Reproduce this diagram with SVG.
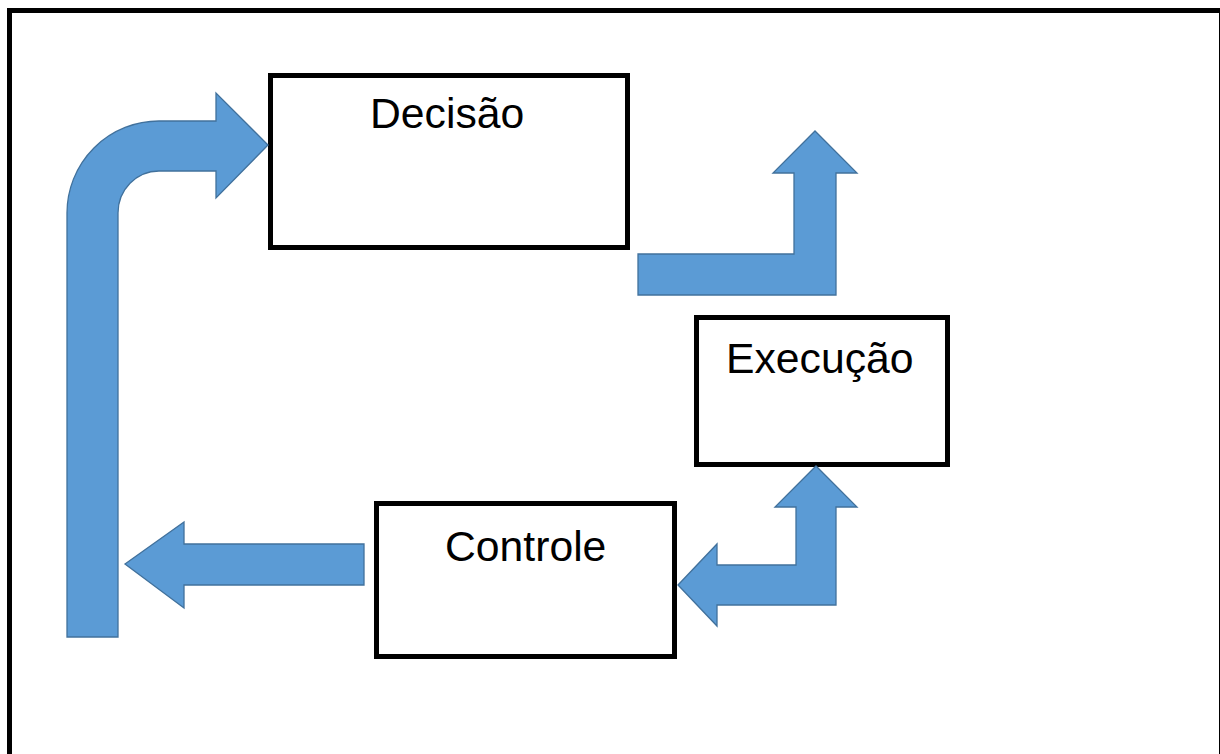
<svg xmlns="http://www.w3.org/2000/svg" width="1220" height="754" viewBox="0 0 1220 754">
  <style>
    .frame { fill: #ffffff; stroke: #000000; stroke-width: 5; }
    .box { fill: #ffffff; stroke: #000000; stroke-width: 5; }
    .label { font-family: "Liberation Sans", Arial, sans-serif; font-size: 42.7px; fill: #000000; }
    .arrow { fill: #5B9BD5; stroke: #41719C; stroke-width: 1.3; stroke-linejoin: miter; }
  </style>

  <!-- outer frame -->
  <rect class="frame" x="9.5" y="10.5" width="1212" height="760"/>

  <!-- nodes -->
  <g id="decisao">
    <rect class="box" x="270.5" y="75.5" width="357" height="172"/>
    <text class="label" x="370" y="128">Decisão</text>
  </g>
  <g id="execucao">
    <rect class="box" x="696.5" y="317.5" width="251" height="147"/>
    <text class="label" x="726" y="373">Execução</text>
  </g>
  <g id="controle">
    <rect class="box" x="376.5" y="503.5" width="298" height="153"/>
    <text class="label" x="445" y="561">Controle</text>
  </g>

  <!-- block-arrow connectors -->
  <g id="connectors">
    <!-- loop back up into Decisão -->
    <path class="arrow" d="M67,637 L67,213 A92,92 0 0 1 159,121 L216,121 L216,93 L268,145 L216,198 L216,171 L159,171 A41,42 0 0 0 118,213 L118,637 Z"/>
    <!-- Decisão out, turning upward -->
    <path class="arrow" d="M638,254 L794,254 L794,173 L773,173 L815,131 L857,173 L836,173 L836,295 L638,295 Z"/>
    <!-- Controle and Execução double-headed bent arrow -->
    <path class="arrow" d="M678,585 L717,544 L717,565 L796,565 L796,507 L775,507 L816,466 L857,507 L836,507 L836,605 L717,605 L717,626 Z"/>
    <!-- Controle out to the left -->
    <path class="arrow" d="M125,564 L184,522 L184,544 L364,544 L364,585 L184,585 L184,608 Z"/>
  </g>
</svg>
